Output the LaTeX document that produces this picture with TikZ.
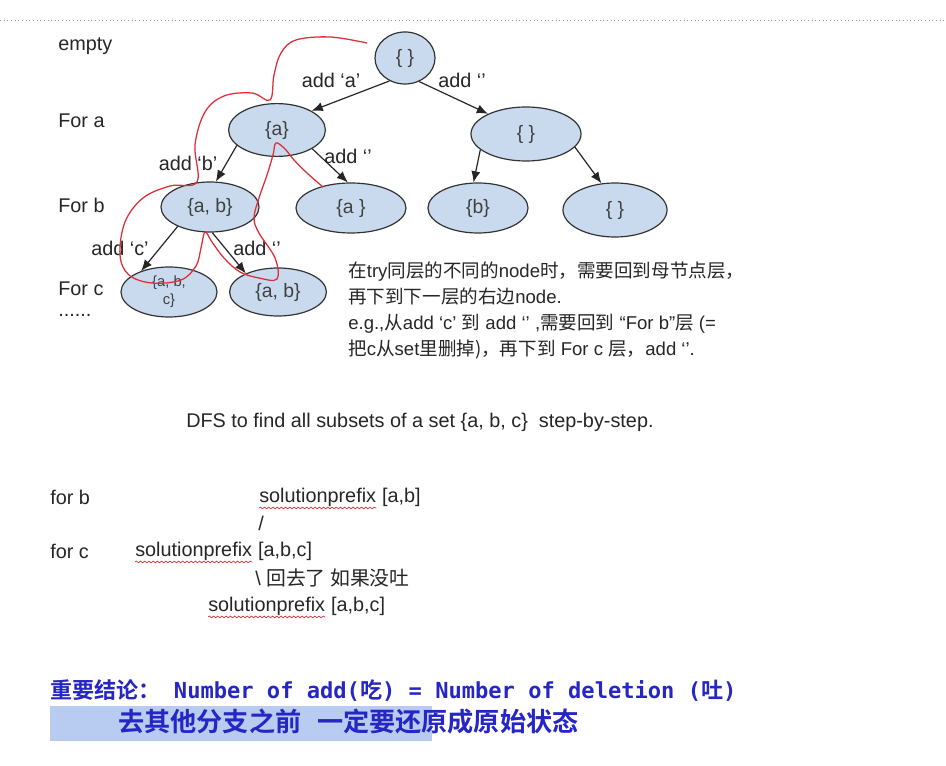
\documentclass[tikz,border=0pt]{standalone}
\usepackage{fontspec}
\setmainfont{Liberation Sans}
\setmonofont{DejaVu Sans Mono}
\newfontfamily\cjk{Noto Sans CJK SC}[BoldFont={Noto Sans CJK SC Bold}]
\newcommand{\zh}[1]{{\cjk #1}}
\usepackage{tikz}
\usetikzlibrary{shapes, arrows.meta, positioning, decorations.pathmorphing}
\definecolor{setblue}{RGB}{201,218,238}
\definecolor{penred}{RGB}{222,45,55}
\definecolor{noteblue}{RGB}{38,38,196}
\definecolor{marked}{RGB}{184,203,240}

\begin{document}
\begin{tikzpicture}[x=0.025cm, y=-0.025cm,
    setnode/.style={ellipse, draw=black!80, line width=0.85pt, fill=setblue, inner sep=0pt,
      text=black!75, font=\fontsize{13.8}{16}\selectfont},
    lbl/.style={inner sep=0pt, text=black!85, font=\fontsize{14.1}{16}\selectfont},
    side/.style={lbl, anchor=west},
    arr/.style={-{Latex[length=8pt, width=6.5pt]}, line width=0.85pt, black!85},
    squig/.style={penred, line width=0.5pt, decorate,
      decoration={snake, amplitude=0.6pt, segment length=3pt}}]
        \useasboundingbox (0,0) rectangle (946,766);

        % dotted rule on top
        \draw[black!40, dotted, line width=0.6pt] (0,20) -- (946,20);

        % levels
        \node[side] (lvl0) at (58,46) {empty};
        \node[side] (lvl1) at (58,121) {For a};
        \node[side] (lvl2) at (58,205) {For b};
        \node[side] (lvl3) at (58,289) {For c};
        \node[side] (lvl4) at (58,315) {......};

        % the tree of subsets
        \node[setnode, minimum width=1.5cm, minimum height=1.3cm] (root) at (405,58) {\{ \}};
        \node[setnode, minimum width=2.42cm, minimum height=1.32cm] (na) at (277,130) {\{a\}};
        \node[setnode, minimum width=2.75cm, minimum height=1.35cm] (nr) at (526,134) {\{ \}};
        \node[setnode, minimum width=2.45cm, minimum height=1.25cm] (nab) at (210,207) {\{a, b\}};
        \node[setnode, minimum width=2.75cm, minimum height=1.25cm] (na2) at (351,208) {\{a \}};
        \node[setnode, minimum width=2.5cm, minimum height=1.25cm] (nb) at (478,208) {\{b\}};
        \node[setnode, minimum width=2.6cm, minimum height=1.35cm] (nr2) at (615,210) {\{ \}};
        \node[setnode, minimum width=2.4cm, minimum height=1.25cm, align=center,
          font=\fontsize{10.5}{13}\selectfont] (nabc) at (169,292) {\{a, b,\\ c\}};
        \node[setnode, minimum width=2.42cm, minimum height=1.2cm] (nab2) at (278,292) {\{a, b\}};

        % branches
        \draw[arr] (root.236) -- (na.29);
        \draw[arr] (root.301) -- (nr.152);
        \draw[arr] (na.201) -- (nab.77);
        \draw[arr] (na.332) -- (na2.97);
        \draw[arr] (nr.199) -- (nb.100);
        \draw[arr] (nr.345) -- (nr2.117);
        \draw[arr] (nab.211) -- (nabc.143);
        \draw[arr] (nab.275) -- (nab2.150);

        \node[lbl] (adda) at (331,80) {add ‘a’};
        \node[lbl] (addn0) at (462,80) {add ‘’};
        \node[lbl] (addb) at (188,163) {add ‘b’};
        \node[lbl] (addn1) at (348,156) {add ‘’};
        \node[lbl] (addc) at (120,248) {add ‘c’};
        \node[lbl] (addn2) at (257,248) {add ‘’};

        % red pen trace of the search
        \draw[penred, line width=0.9pt] plot[smooth, tension=0.6] coordinates {(367,43) (330,37)
          (296,40) (281,53) (274,75) (270,100) (252,93) (224,96) (205,112) (195,145) (197,182)
          (170,186) (143,198) (125,222) (120,255) (129,275) (152,283) (181,280) (196,266)
          (201,248) (205,232) (212,242) (224,258) (240,272) (259,278) (277,279) (275,258)
          (259,233) (254,218) (259,198) (267,175) (273,155) (276,143) (285,149) (294,160)
          (307,173) (323,187)};

        % note next to the tree
        \node[lbl, anchor=north west, align=left, font=\fontsize{13.2}{18.3}\selectfont] (note)
          at (348,262) {\zh{在}try\zh{同层的不同的}node\zh{时，需要回到母节点层，}\\
          \zh{再下到下一层的右边}node.\\
          e.g.,\zh{从}add ‘c’ \zh{到} add ‘’ ,\zh{需要回到} “For b”\zh{层} (=\\
          \zh{把}c\zh{从}set\zh{里删掉)，再下到} For c \zh{层，}add ‘’.};

        \node[side] (title) at (186,422) {DFS to find all subsets of a set \{a, b, c\}\ \ step-by-step.};

        % solution prefix by level
        \node[side] (forb) at (50,497) {for b};
        \node[side] (sp1) at (259,497) {solutionprefix};
        \node[lbl, anchor=base west] (ab1) at ([xshift=3.9pt]sp1.base east) {[a,b]};
        \node[side] (up) at (258,523) {/};
        \node[side] (forc) at (50,551) {for c};
        \node[side] (sp2) at (135,551) {solutionprefix};
        \node[lbl, anchor=base west] (abc2) at ([xshift=3.9pt]sp2.base east) {[a,b,c]};
        \node[side] (back) at (255,578) {\textbackslash\ \zh{回去了\ 如果没吐}};
        \node[side] (sp3) at (208,606) {solutionprefix};
        \node[lbl, anchor=base west] (abc3) at ([xshift=3.9pt]sp3.base east) {[a,b,c]};
        \draw[squig] ([yshift=-1pt]sp1.south west) -- ([yshift=-1pt]sp1.south east);
        \draw[squig] ([yshift=-1pt]sp2.south west) -- ([yshift=-1pt]sp2.south east);
        \draw[squig] ([yshift=-1pt]sp3.south west) -- ([yshift=-1pt]sp3.south east);

        % conclusion
        \fill[marked] (50,706) rectangle (432,741);
        \node[anchor=west, inner sep=0pt, text=noteblue, font=\fontsize{15.7}{18}\selectfont\bfseries]
          (concl) at (50,691) {\zh{重要结论：}{\ttfamily\ Number of add(}\zh{吃}{\ttfamily) =
          Number of deletion (}\zh{吐}{\ttfamily)}};
        \node[anchor=west, inner sep=0pt, text=noteblue, font=\cjk\bfseries\fontsize{18.6}{21}\selectfont]
          (keep) at (118,722) {去其他分支之前\hspace{0.6em}一定要还原成原始状态};
      \end{tikzpicture}
\end{document}
